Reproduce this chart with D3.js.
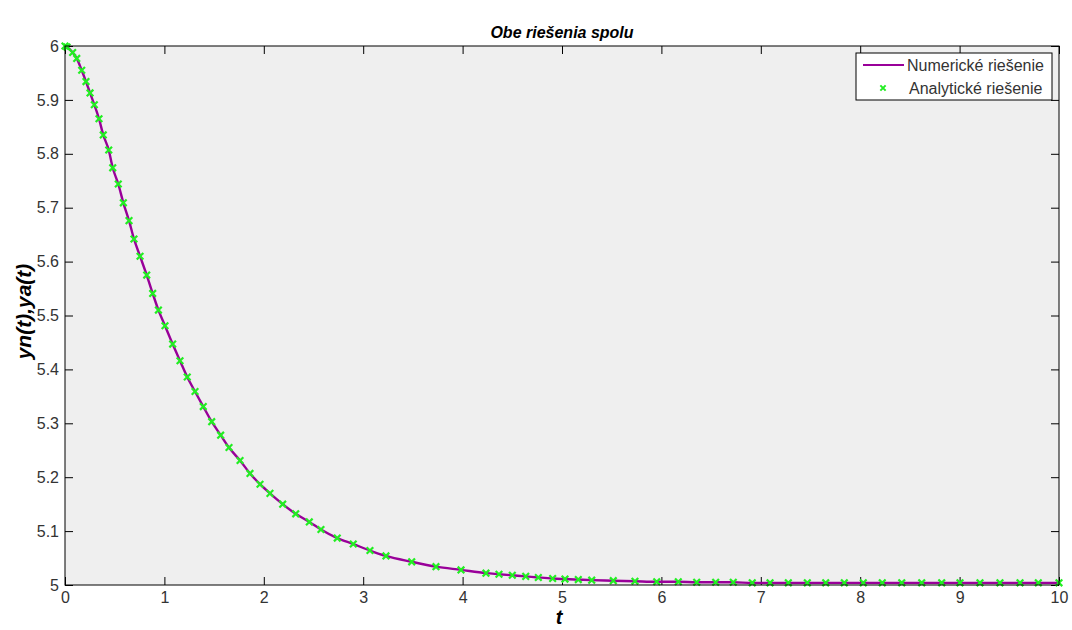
<!DOCTYPE html>
<html>
<head>
<meta charset="utf-8">
<script src="https://cdn.jsdelivr.net/npm/d3@7"></script>
<style>
  html, body { margin: 0; padding: 0; background: #fff; }
  svg { display: block; font-family: Arial, "Liberation Sans", sans-serif; }
</style>
</head>
<body>
<div id="chart"></div>
<script>
// --- Data ---
const tValues = [0, 0.02, 0.077, 0.118, 0.168, 0.211, 0.252, 0.295, 0.342, 0.385, 0.44, 0.48,
  0.536, 0.587, 0.644, 0.694, 0.755, 0.822, 0.882, 0.94, 1.006, 1.083, 1.157, 1.23, 1.308,
  1.391, 1.476, 1.566, 1.65, 1.761, 1.861, 1.962, 2.062, 2.19, 2.321, 2.458, 2.575, 2.739,
  2.9, 3.068, 3.229, 3.488, 3.732, 3.984, 4.235, 4.366, 4.5, 4.635, 4.762, 4.906, 5.03,
  5.164, 5.299, 5.516, 5.734, 5.953, 6.17, 6.355, 6.546, 6.723, 6.914, 7.093, 7.277, 7.468,
  7.653, 7.84, 8.031, 8.222, 8.418, 8.619, 8.82, 9.004, 9.205, 9.406, 9.608, 9.792, 10];

const yAnalytic = [6, 5.998, 5.988, 5.977, 5.955, 5.934, 5.913, 5.891, 5.865, 5.835, 5.807, 5.774,
  5.744, 5.709, 5.676, 5.642, 5.61, 5.575, 5.541, 5.51, 5.481, 5.447, 5.416, 5.386, 5.359,
  5.331, 5.303, 5.278, 5.255, 5.231, 5.207, 5.187, 5.17, 5.15, 5.132, 5.117, 5.103, 5.087,
  5.076, 5.064, 5.054, 5.043, 5.034, 5.028, 5.022, 5.02, 5.018, 5.016, 5.014, 5.012, 5.011,
  5.01, 5.009, 5.008, 5.007, 5.006, 5.006, 5.005, 5.005, 5.005, 5.004, 5.004, 5.004, 5.004,
  5.004, 5.004, 5.004, 5.004, 5.004, 5.004, 5.004, 5.004, 5.004, 5.004, 5.004, 5.004, 5.004];

// numerical solution lies on top of the analytic one
const yNumeric = yAnalytic.slice();

const xTicks = [0, 1, 2, 3, 4, 5, 6, 7, 8, 9, 10];
const yTicks = [5, 5.1, 5.2, 5.3, 5.4, 5.5, 5.6, 5.7, 5.8, 5.9, 6];
const legendLabels = ["Numerické riešenie", "Analytické riešenie"];
const titleText = "Obe riešenia spolu";
const xLabel = "t";
const yLabel = "yn(t),ya(t)";

// --- Layout ---
const width = 1072, height = 630;
const margin = { top: 46, right: 13, bottom: 45, left: 65 };
const plotW = width - margin.left - margin.right;
const plotH = height - margin.top - margin.bottom;

const lineColor = "#990099";
const markColor = "#22ee22";

const svg = d3.select("#chart").append("svg")
  .attr("width", width)
  .attr("height", height);

const x = d3.scaleLinear().domain([0, 10]).range([0, plotW]);
const y = d3.scaleLinear().domain([5, 6]).range([plotH, 0]);

const g = svg.append("g")
  .attr("transform", `translate(${margin.left},${margin.top})`);

g.append("rect")
  .attr("width", plotW)
  .attr("height", plotH)
  .attr("fill", "#efefef");

// axes, ticks point inward like matlab
function styleAxis(sel) {
  sel.select(".domain").remove();
  sel.selectAll(".tick line").attr("stroke", "#000");
  sel.selectAll(".tick text")
    .attr("fill", "#333")
    .style("font-size", "16px")
    .style("font-family", "Arial, 'Liberation Sans', sans-serif");
}

g.append("g")
  .attr("transform", `translate(0,${plotH})`)
  .call(d3.axisBottom(x).tickValues(xTicks).tickSize(-8).tickPadding(7).tickFormat(d3.format("d")))
  .call(styleAxis);

g.append("g")
  .call(d3.axisTop(x).tickValues(xTicks).tickSize(-8).tickFormat(""))
  .call(styleAxis);

g.append("g")
  .call(d3.axisLeft(y).tickValues(yTicks).tickSize(-8).tickPadding(6).tickFormat(d => d3.format("")(+d.toFixed(1))))
  .call(styleAxis);

g.append("g")
  .attr("transform", `translate(${plotW},0)`)
  .call(d3.axisRight(y).tickValues(yTicks).tickSize(-8).tickFormat(""))
  .call(styleAxis);

// --- Series ---
const numData = tValues.map((t, i) => ({ t, y: yNumeric[i] }));
const anaData = tValues.map((t, i) => ({ t, y: yAnalytic[i] }));

const line = d3.line()
  .x(d => x(d.t))
  .y(d => y(d.y))
  .curve(d3.curveMonotoneX);

g.append("path")
  .datum(numData)
  .attr("fill", "none")
  .attr("stroke", lineColor)
  .attr("stroke-width", 2.4)
  .attr("d", line);

const xMark = d3.symbol().type(d3.symbolTimes).size(30);

g.append("g")
  .selectAll("path")
  .data(anaData)
  .join("path")
  .attr("transform", d => `translate(${x(d.t)},${y(d.y)})`)
  .attr("d", xMark)
  .attr("fill", "none")
  .attr("stroke", markColor)
  .attr("stroke-width", 2.2);

// plot frame
g.append("rect")
  .attr("width", plotW)
  .attr("height", plotH)
  .attr("fill", "none")
  .attr("stroke", "#000")
  .attr("stroke-width", 1);

// --- Legend ---
const legend = g.append("g")
  .attr("transform", `translate(${plotW - 203},7)`);

legend.append("rect")
  .attr("width", 196)
  .attr("height", 47)
  .attr("fill", "#fff")
  .attr("stroke", "#000");

legend.append("line")
  .attr("x1", 7).attr("x2", 48)
  .attr("y1", 12).attr("y2", 12)
  .attr("stroke", lineColor)
  .attr("stroke-width", 2);

legend.append("path")
  .attr("transform", "translate(27,35)")
  .attr("d", d3.symbol().type(d3.symbolTimes).size(20))
  .attr("fill", "none")
  .attr("stroke", markColor)
  .attr("stroke-width", 2);

legend.selectAll("text")
  .data(legendLabels)
  .join("text")
  .attr("x", (d, i) => i === 0 ? 51 : 53)
  .attr("y", (d, i) => 18 + i * 23)
  .attr("fill", "#333")
  .style("font-size", "16px")
  .text(d => d);

// --- Titles ---
svg.append("text")
  .attr("x", margin.left + plotW / 2)
  .attr("y", 38)
  .attr("text-anchor", "middle")
  .style("font-size", "16px")
  .style("font-weight", "bold")
  .style("font-style", "italic")
  .text(titleText);

svg.append("text")
  .attr("x", margin.left + plotW / 2 - 3)
  .attr("y", 624)
  .attr("text-anchor", "middle")
  .style("font-size", "20px")
  .style("font-weight", "bold")
  .style("font-style", "italic")
  .text(xLabel);

svg.append("text")
  .attr("transform", `translate(31,${margin.top + plotH / 2 - 4}) rotate(-90)`)
  .attr("text-anchor", "middle")
  .style("font-size", "21px")
  .style("font-weight", "bold")
  .style("font-style", "italic")
  .text(yLabel);
</script>
</body>
</html>
